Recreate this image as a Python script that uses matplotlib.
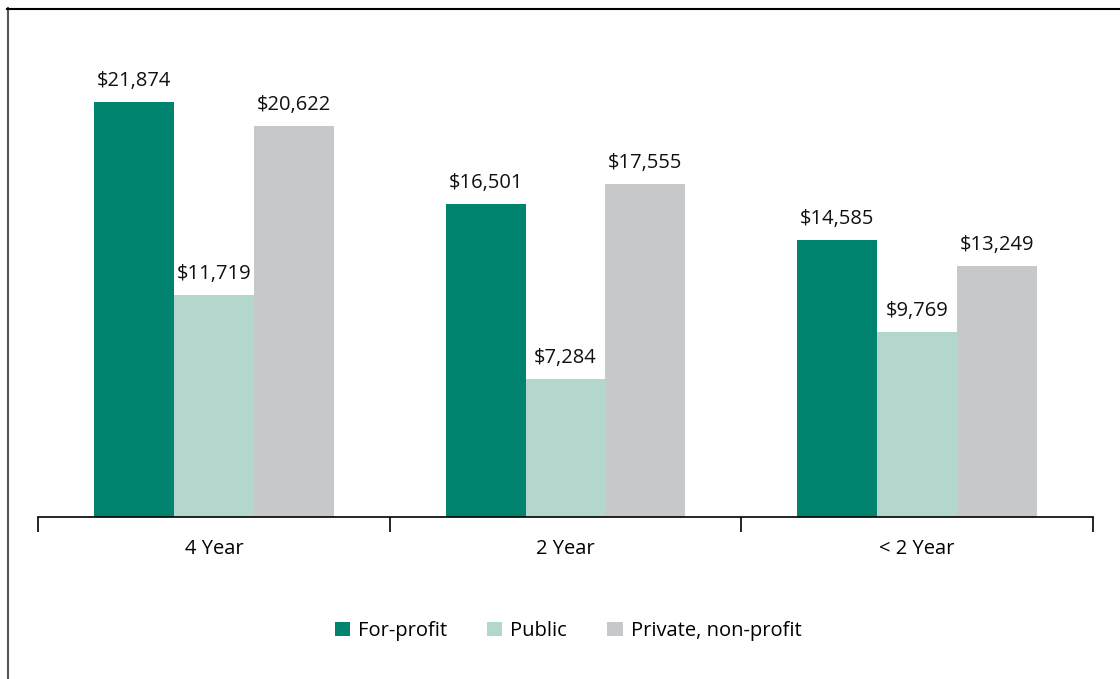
import matplotlib.pyplot as plt
from matplotlib.lines import Line2D
import numpy as np

plt.rcParams["font.family"] = ["Open Sans", "DejaVu Sans"]

CATEGORIES = ["4 Year", "2 Year", "< 2 Year"]
SERIES = ["For-profit", "Public", "Private, non-profit"]
FOR_PROFIT = [21874, 16501, 14585]
PUBLIC = [11719, 7284, 9769]
PRIVATE = [20622, 17555, 13249]
COLORS = ["#00846f", "#b3d6cd", "#c7c8ca"]

fig = plt.figure(figsize=(11.2, 6.79), dpi=100)
ax = fig.add_axes([38 / 1120, 1 - 517 / 679, (1093 - 38) / 1120, (517 - 30) / 679])

x = np.arange(len(CATEGORIES))
width = 0.227
for i, (name, vals, color) in enumerate(zip(SERIES, [FOR_PROFIT, PUBLIC, PRIVATE], COLORS)):
    bars = ax.bar(x + (i - 1) * width, vals, width, color=color, label=name)
    for b, v in zip(bars, vals):
        ax.annotate(f"${v:,}", (b.get_x() + b.get_width() / 2, v),
                    xytext=(0, 8), textcoords="offset points",
                    ha="center", va="bottom", fontsize=14.5, color="#111111")

ax.set_xlim(-0.5, 2.5)
ax.set_ylim(0, 25670)
ax.set_yticks([])
for s in ["left", "right", "top"]:
    ax.spines[s].set_visible(False)
ax.spines["bottom"].set_linewidth(1.2)
ax.set_xticks(x)
ax.set_xticklabels(CATEGORIES, fontsize=14.5)
ax.tick_params(axis="x", which="major", length=0, pad=16)
ax.set_xticks([-0.5, 0.5, 1.5, 2.5], minor=True)
ax.tick_params(axis="x", which="minor", length=11, width=1.2, direction="out")

fig.legend(loc="center", bbox_to_anchor=(568 / 1120, 1 - 631 / 679), ncol=3,
           frameon=False, fontsize=14.5, handlelength=0.75, handleheight=0.75,
           handletextpad=0.4, columnspacing=2.0)

# partial frame around the figure
fig.add_artist(Line2D([7.5 / 1120, 7.5 / 1120], [0, 1 - 8 / 679], color="#555555", lw=1.5))
fig.add_artist(Line2D([7 / 1120, 1], [1 - 8.5 / 679, 1 - 8.5 / 679], color="black", lw=1.5))

fig.savefig("out.png", dpi=100)
